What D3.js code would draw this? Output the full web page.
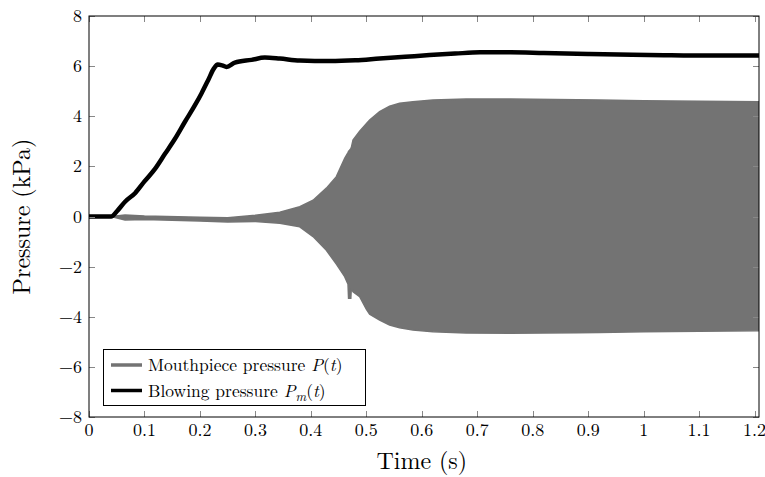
<!DOCTYPE html>
<html>
<head>
<meta charset="utf-8">
<script src="https://cdn.jsdelivr.net/npm/d3@7"></script>
<style>
  body { margin: 0; background: #fff; }
</style>
</head>
<body>
<div id="chart"></div>
<script>
// blowing pressure Pm(t)
var pmTime  = [0, 0.04, 0.05, 0.065, 0.083, 0.10, 0.119, 0.137, 0.155, 0.173, 0.19, 0.203, 0.215, 0.225, 0.232, 0.24, 0.248, 0.263, 0.293, 0.317, 0.344, 0.38, 0.434, 0.48, 0.524, 0.57, 0.614, 0.66, 0.705, 0.76, 0.82, 0.9, 0.98, 1.05, 1.12, 1.208];
var pmValue = [0, 0, 0.2, 0.59, 0.93, 1.4, 1.9, 2.5, 3.1, 3.78, 4.4, 4.92, 5.45, 5.9, 6.06, 6.03, 5.97, 6.14, 6.25, 6.34, 6.3, 6.22, 6.2, 6.23, 6.3, 6.37, 6.44, 6.5, 6.55, 6.55, 6.52, 6.48, 6.45, 6.43, 6.42, 6.42];

// mouthpiece pressure P(t): oscillation envelope (upper / lower)
var envTime  = [0, 0.04, 0.065, 0.1, 0.2, 0.25, 0.3, 0.344, 0.38, 0.404, 0.428, 0.446, 0.461, 0.467, 0.468, 0.472, 0.473, 0.476, 0.488, 0.5, 0.506, 0.524, 0.542, 0.56, 0.584, 0.62, 0.68, 0.76, 0.88, 0.92, 1.0, 1.1, 1.208];
var envUpper = [0, 0, 0.06, 0.02, -0.03, -0.05, 0.05, 0.17, 0.39, 0.65, 1.13, 1.59, 2.32, 2.55, 2.6, 2.7, 2.75, 3.05, 3.4, 3.7, 3.85, 4.18, 4.4, 4.52, 4.58, 4.65, 4.69, 4.69, 4.66, 4.65, 4.62, 4.6, 4.58];
var envLower = [0, 0, -0.14, -0.12, -0.18, -0.22, -0.2, -0.27, -0.41, -0.8, -1.35, -1.9, -2.4, -2.7, -3.26, -3.26, -2.85, -3.0, -3.2, -3.7, -3.9, -4.13, -4.33, -4.44, -4.53, -4.6, -4.65, -4.66, -4.64, -4.63, -4.6, -4.58, -4.56];

var xTicks = [0, 0.1, 0.2, 0.3, 0.4, 0.5, 0.6, 0.7, 0.8, 0.9, 1, 1.1, 1.2];
var yTicks = [-8, -6, -4, -2, 0, 2, 4, 6, 8];

var legendLabels = ["Mouthpiece pressure", "Blowing pressure"];

const fontName = "Latin Modern Roman";
const width = 765, height = 477;
const padding = { top: 16, right: 6, bottom: 60, left: 89 };
const plotW = width - padding.left - padding.right;
const plotH = height - padding.top - padding.bottom;

var xScale = d3.scaleLinear().domain([0, 1.208]).range([0, plotW]);
var yScale = d3.scaleLinear().domain([-8, 8]).range([plotH, 0]);

var svg = d3.select("#chart").append("svg")
  .attr("width", width)
  .attr("height", height)
  .attr("font-family", fontName);

var g = svg.append("g").attr("transform", "translate(" + padding.left + "," + padding.top + ")");

svg.append("clipPath").attr("id", "clip")
  .append("rect").attr("width", plotW).attr("height", plotH);

var env = envTime.map(function(t, i) { return { t: t, hi: envUpper[i], lo: envLower[i] }; });
var pm = pmTime.map(function(t, i) { return { t: t, v: pmValue[i] }; });

var area = d3.area()
  .x(function(d) { return xScale(d.t); })
  .y0(function(d) { return yScale(d.lo); })
  .y1(function(d) { return yScale(d.hi); });

var plotG = g.append("g").attr("clip-path", "url(#clip)");

plotG.append("path")
  .datum(env)
  .attr("fill", "#737373")
  .attr("stroke", "#737373")
  .attr("stroke-width", 1.5)
  .attr("d", area);

var line = d3.line()
  .x(function(d) { return xScale(d.t); })
  .y(function(d) { return yScale(d.v); })
  .curve(d3.curveMonotoneX);

plotG.append("path")
  .datum(pm)
  .attr("fill", "none")
  .attr("stroke", "#000")
  .attr("stroke-width", 4.5)
  .attr("stroke-linejoin", "round")
  .attr("d", line);

// ticks (inside, on all four sides)
var tickLen = 6;
xTicks.forEach(function(t) {
  var x = Math.round(xScale(t)) + 0.5;
  g.append("line").attr("x1", x).attr("x2", x).attr("y1", plotH).attr("y2", plotH - tickLen)
    .attr("stroke", "#888").attr("stroke-width", 1);
  g.append("line").attr("x1", x).attr("x2", x).attr("y1", 0).attr("y2", tickLen)
    .attr("stroke", "#888").attr("stroke-width", 1);
  g.append("text")
    .attr("x", xScale(t)).attr("y", plotH + 19)
    .attr("text-anchor", "middle")
    .attr("font-family", fontName)
    .style("font-size", "18px")
    .text(String(t));
});
yTicks.forEach(function(v) {
  var y = Math.round(yScale(v)) + 0.5;
  g.append("line").attr("x1", 0).attr("x2", tickLen).attr("y1", y).attr("y2", y)
    .attr("stroke", "#888").attr("stroke-width", 1);
  g.append("line").attr("x1", plotW).attr("x2", plotW - tickLen).attr("y1", y).attr("y2", y)
    .attr("stroke", "#888").attr("stroke-width", 1);
  g.append("text")
    .attr("x", -7).attr("y", yScale(v) + 6)
    .attr("text-anchor", "end")
    .attr("font-family", fontName)
    .style("font-size", "18px")
    .text(v < 0 ? "\u2212" + Math.abs(v) : String(v));
});

// frame
g.append("rect")
  .attr("x", 0).attr("y", 0).attr("width", plotW).attr("height", plotH)
  .attr("fill", "none").attr("stroke", "#000").attr("stroke-width", 1);

// axis titles
svg.append("text")
  .attr("x", padding.left + xScale(0.6)).attr("y", 469)
  .attr("text-anchor", "middle")
  .attr("font-family", fontName)
  .style("font-size", "24px")
  .text("Time (s)");

svg.append("text")
  .attr("transform", "translate(30," + (padding.top + plotH / 2) + ") rotate(-90)")
  .attr("text-anchor", "middle")
  .attr("font-family", fontName)
  .style("font-size", "24px")
  .text("Pressure (kPa)");

// legend
var lg = svg.append("g").attr("transform", "translate(103,349)");
lg.append("rect").attr("x", 0.5).attr("y", 0.5).attr("width", 262).attr("height", 56)
  .attr("fill", "#fff").attr("stroke", "#000").attr("stroke-width", 1);

var legendColors = ["#737373", "#000"];
var legendSub = [null, "m"];
legendLabels.forEach(function(lab, i) {
  var y = 16 + i * 25.5;
  lg.append("line").attr("x1", 8).attr("x2", 39).attr("y1", y).attr("y2", y)
    .attr("stroke", legendColors[i]).attr("stroke-width", 3.5);
  var tx = lg.append("text").attr("x", 45).attr("y", y + 6)
    .attr("font-family", fontName).style("font-size", "17.5px");
  tx.append("tspan").text(lab + " ");
  tx.append("tspan").style("font-style", "italic").text("P");
  if (legendSub[i]) {
    tx.append("tspan").style("font-style", "italic").style("font-size", "13px")
      .attr("dy", 4).text(legendSub[i]);
    tx.append("tspan").attr("dy", -4).text("(");
  } else {
    tx.append("tspan").text("(");
  }
  tx.append("tspan").style("font-style", "italic").text("t");
  tx.append("tspan").text(")");
});
</script>
</body>
</html>
